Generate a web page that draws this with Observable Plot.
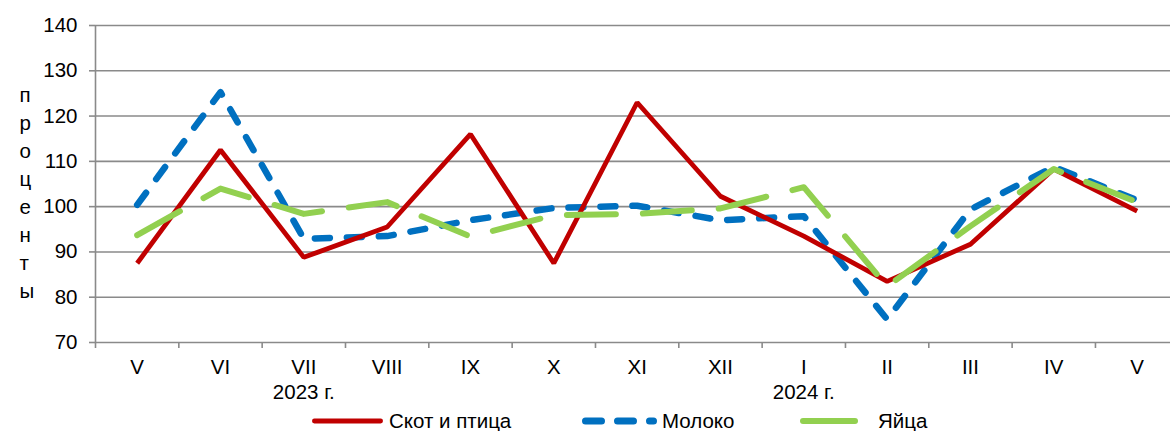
<!DOCTYPE html>
<html><head><meta charset="utf-8">
<script src="https://cdn.jsdelivr.net/npm/d3@7"></script>
<script src="https://cdn.jsdelivr.net/npm/@observablehq/plot@0.6"></script>
<style>
body{margin:0;background:#fff;font-family:"Liberation Sans",Arial,sans-serif;}
#wrap{position:relative;width:1170px;height:431px;overflow:hidden;background:#fff;}
#legend{position:absolute;left:0;top:404px;width:1170px;height:27px;}
.item{position:absolute;top:6px;height:21px;line-height:21px;display:flex;align-items:center;font-size:20.5px;color:#000;white-space:nowrap;}
.item svg{display:block;}
</style></head><body><div id="wrap"><div id="chart"></div><div id="legend"></div></div>
<script>
// ---- data ----
const months = ["V","VI","VII","VIII","IX","X","XI","XII","I","II","III","IV","V"];
const yearIdx = [2, 8];
const yearText = ["2023 г.", "2024 г."];
const livestock = [87.5,112.5,88.8,95.5,116.0,87.5,123.0,102.3,93.5,83.5,91.7,108.3,99.0];
const milk      = [100.4,125.3,92.9,93.5,97.0,99.7,100.2,97.0,97.9,75.1,99.4,108.8,101.4];
const eggs      = [93.7,104.0,98.4,101.0,93.4,98.1,98.4,99.6,104.3,82.4,95.7,108.3,101.0];
const yTicks = [70,80,90,100,110,120,130,140];
const seriesNames = ["Скот и птица","Молоко","Яйца"];
const yTitle = "проценты";

// ---- chart ----
const idx = months.map((_, i) => i);
const boundaries = d3.range(months.length + 1).map(i => i - 0.5);
const grid = "#8a8a8a";
const font = "Liberation Sans, Arial, sans-serif";
const fs = 20.5;

const chart = Plot.plot({
  width: 1170, height: 404,
  marginTop: 25, marginBottom: 62, marginLeft: 95, marginRight: 0,
  x: {type: "linear", domain: [-0.5, months.length - 0.5], range: [95, 95 + 83.33 * months.length], axis: null},
  y: {domain: [70, 140], range: [342, 25], axis: null},
  style: {fontFamily: font, fontSize: fs + "px", color: "#000", background: "#fff"},
  marks: [
    Plot.ruleY(yTicks, {stroke: grid, strokeWidth: 1.6}),
    Plot.axisY(yTicks, {anchor: "left", tickSize: 6, tickPadding: 12, stroke: grid, strokeWidth: 1.6, fill: "#000", fontSize: fs, label: null}),
    Plot.ruleX([-0.5], {y1: 70, y2: 140, stroke: grid, strokeWidth: 1.6}),
    Plot.axisX(boundaries, {anchor: "bottom", tickSize: 6, tickFormat: () => "", stroke: grid, strokeWidth: 1.6, label: null}),
    Plot.text(idx, {x: d => d, text: i => months[i], frameAnchor: "bottom", dy: 31, fill: "#000", fontSize: fs}),
    Plot.text(yearIdx, {x: d => d, text: (d, j) => yearText[j], frameAnchor: "bottom", dy: 56, fill: "#000", fontSize: fs}),
    Plot.text([yTitle], {text: d => d.split("").join("\n"), frameAnchor: "left", dx: -76, dy: 7, lineHeight: 1.36, fill: "#000", fontSize: fs}),
    Plot.line(idx, {x: d => d, y: i => milk[i], stroke: "#0070C0", strokeWidth: 6.5, strokeDasharray: "15,17", strokeLinecap: "round", strokeLinejoin: "round"}),
    Plot.line(idx, {x: d => d, y: i => livestock[i], stroke: "#C00000", strokeWidth: 4.8, strokeLinecap: "butt", strokeLinejoin: "miter"}),
    Plot.line(idx, {x: d => d, y: i => eggs[i], stroke: "#92D050", strokeWidth: 6, strokeDasharray: "49,27", strokeLinecap: "round", strokeLinejoin: "round"})
  ]
});
document.getElementById("chart").appendChild(chart);

// ---- legend ----
const legendItems = [
  {name: seriesNames[0], color: "#C00000", w: 4.8, dash: null, left: 312, len: 71, gap: 6},
  {name: seriesNames[1], color: "#0070C0", w: 7, dash: "16,16", left: 582, len: 75, gap: 5},
  {name: seriesNames[2], color: "#92D050", w: 6, dash: null, left: 800, len: 58, gap: 20}
];
const legend = document.getElementById("legend");
for (const it of legendItems) {
  const div = document.createElement("div");
  div.className = "item";
  div.style.left = it.left + "px";
  const h = 10, r = it.w / 2;
  div.innerHTML = `<svg width="${it.len}" height="${h}"><line x1="${r}" x2="${it.len - r}" y1="${h/2}" y2="${h/2}" stroke="${it.color}" stroke-width="${it.w}" stroke-linecap="round" ${it.dash ? `stroke-dasharray="${it.dash}"` : ""}/></svg><span style="margin-left:${it.gap}px">${it.name}</span>`;
  legend.appendChild(div);
}
</script></body></html>
